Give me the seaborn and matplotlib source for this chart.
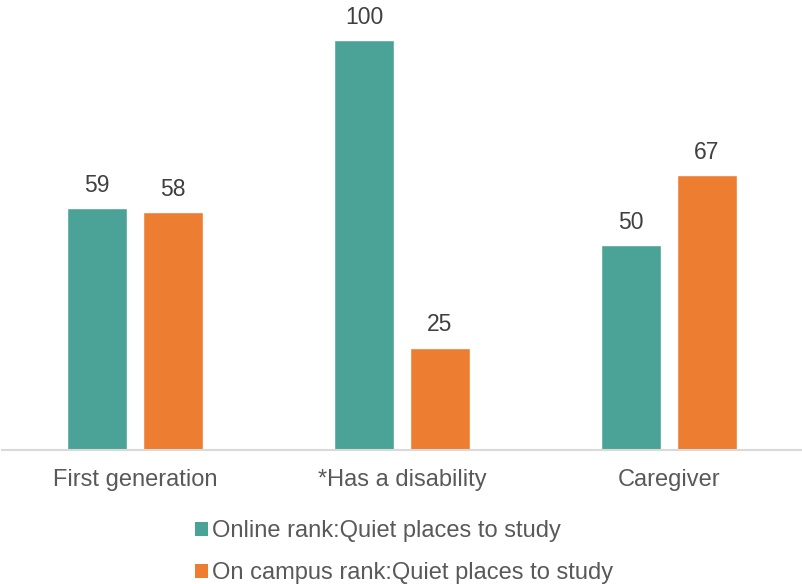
import matplotlib
matplotlib.use("Agg")
import matplotlib.pyplot as plt
from matplotlib.patches import Patch
import seaborn as sns
import pandas as pd

categories = ["First generation", "*Has a disability", "Caregiver"]
series_names = ["Online rank:Quiet places to study", "On campus rank:Quiet places to study"]
online_values = [59, 100, 50]
campus_values = [58, 25, 67]
colors = ["#4BA397", "#ED7D31"]

df = pd.DataFrame({
    "category": categories * 2,
    "series": [series_names[0]] * 3 + [series_names[1]] * 3,
    "value": online_values + campus_values,
})

sns.set_theme(style="white")
plt.rcParams["font.family"] = ["Liberation Sans", "DejaVu Sans"]

fig = plt.figure(figsize=(8.03, 5.84), dpi=100)
ax = fig.add_axes([1.5 / 803, (584 - 450) / 584, 801 / 803, 450 / 584])

sns.barplot(data=df, x="category", y="value", hue="series", order=categories,
            hue_order=series_names, palette=colors, width=0.569, gap=0.21,
            saturation=1, legend=False, ax=ax)

for container in ax.containers:
    ax.bar_label(container, fmt="%g", padding=8, fontsize=16.5, color="#404040")

ax.set_xlim(-0.5, 2.5)
ax.set_ylim(0, 450 / 4.1)
ax.set_xlabel("")
ax.set_ylabel("")
ax.set_yticks([])
ax.tick_params(axis="x", length=0, pad=14, labelsize=17, labelcolor="#595959")
for side in ["top", "left", "right"]:
    ax.spines[side].set_visible(False)
ax.spines["bottom"].set_color("#D9D9D9")
ax.spines["bottom"].set_linewidth(1.5)

handles = [Patch(facecolor=c, edgecolor="none") for c in colors]
fig.legend(handles, series_names, loc="upper left",
           bbox_to_anchor=(195 / 803, 1 - 520 / 584), frameon=False,
           fontsize=17, labelcolor="#595959", handlelength=0.55, handleheight=0.55,
           handletextpad=0.15, labelspacing=0.85, borderpad=0, borderaxespad=0)

fig.savefig("out.png", dpi=100)
